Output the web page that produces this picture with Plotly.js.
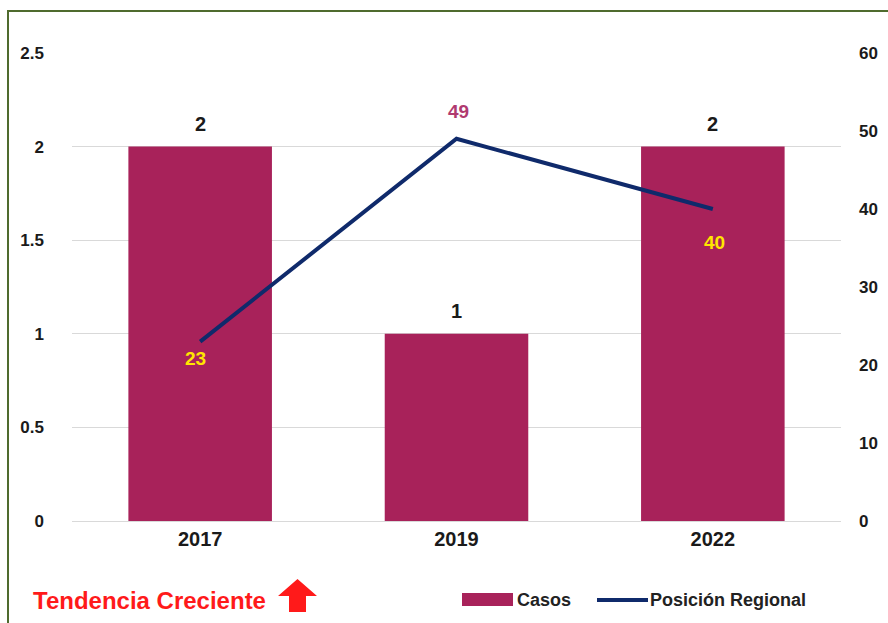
<!DOCTYPE html>
<html>
<head>
<meta charset="utf-8">
<script src="https://cdn.plot.ly/plotly-3.0.1.min.js"></script>
<style>html,body{margin:0;padding:0;background:#fff;}#chart{width:888px;height:623px;}</style>
</head>
<body>
<div id="chart"></div>
<script>
const years = ['2017', '2019', '2022'];
const casos = [2, 1, 2];
const posicion = [23, 49, 40];
const posLabelColors = ['#FFE600', '#B03A70', '#FFE600'];
const posLabelShift = [-17, 27, -33];
const leftTicks = [0, 0.5, 1, 1.5, 2, 2.5];
const leftTickText = ['0', '0.5', '1', '1.5', '2', '2.5'];
const rightTicks = [0, 10, 20, 30, 40, 50, 60];
const seriesNames = ['Casos', 'Posición Regional'];
const barColor = '#A8225A';
const lineColor = '#0F2A6B';

const FONT = 'Liberation Sans, Arial, sans-serif';
const L = 72, R = 47, T = 53, B = 102;
const W = 888, H = 623;
const pw = W - L - R, ph = H - T - B;
const px = x => (x - L) / pw;
const py = y => (H - B - y) / ph;

const traces = [
  {
    type: 'bar', name: seriesNames[0], x: years, y: casos,
    marker: {color: barColor}, width: 0.56, yaxis: 'y',
    hoverinfo: 'skip', showlegend: false
  },
  {
    type: 'scatter', mode: 'lines', name: seriesNames[1], x: years, y: posicion,
    line: {color: lineColor, width: 4}, yaxis: 'y2', hoverinfo: 'skip', showlegend: false
  }
];

const annotations = [];
years.forEach((yr, i) => {
  annotations.push({
    x: i, y: casos[i], xref: 'x', yref: 'y', text: '<b>' + casos[i] + '</b>',
    showarrow: false, yanchor: 'middle', yshift: 23,
    font: {family: FONT, size: 20, color: '#1a1a1a'}
  });
  annotations.push({
    x: i, y: posicion[i], xref: 'x', yref: 'y2', text: '<b>' + posicion[i] + '</b>',
    showarrow: false, yanchor: 'middle', yshift: posLabelShift[i], xshift: i === 0 ? -5 : 2,
    font: {family: FONT, size: 19, color: posLabelColors[i]}
  });
});
annotations.push({
  xref: 'paper', yref: 'paper', x: px(31), y: py(600), xanchor: 'left', yanchor: 'middle',
  text: '<b>Tendencia Creciente</b>', showarrow: false,
  font: {family: FONT, size: 24, color: '#FF1A1A'}
});
// legend texts
annotations.push({
  xref: 'paper', yref: 'paper', x: px(515), y: py(600), xanchor: 'left', yanchor: 'middle',
  text: '<b>' + seriesNames[0] + '</b>', showarrow: false,
  font: {family: FONT, size: 18, color: '#222'}
});
annotations.push({
  xref: 'paper', yref: 'paper', x: px(648), y: py(600), xanchor: 'left', yanchor: 'middle',
  text: '<b>' + seriesNames[1] + '</b>', showarrow: false,
  font: {family: FONT, size: 18, color: '#222'}
});

const shapes = [
  {
    type: 'rect', xref: 'paper', yref: 'paper', x0: px(8), x1: px(900), y0: py(11), y1: py(640),
    line: {color: '#4F6B2E', width: 2}, fillcolor: 'rgba(0,0,0,0)', layer: 'below'
  },
  {
    type: 'path', xref: 'paper', yref: 'paper',
    path: 'M ' + px(297.5) + ' ' + py(579) + ' L ' + px(317) + ' ' + py(596) + ' L ' + px(306) + ' ' + py(596) +
          ' L ' + px(306) + ' ' + py(612) + ' L ' + px(289) + ' ' + py(612) + ' L ' + px(289) + ' ' + py(596) +
          ' L ' + px(278) + ' ' + py(596) + ' Z',
    fillcolor: '#FF1A1A', line: {width: 0}
  },
  {
    type: 'rect', xref: 'paper', yref: 'paper', x0: px(462), x1: px(513), y0: py(593), y1: py(606),
    fillcolor: barColor, line: {width: 0}
  },
  {
    type: 'line', xref: 'paper', yref: 'paper', x0: px(597), x1: px(648), y0: py(600), y1: py(600),
    line: {color: lineColor, width: 4}
  }
];

const layout = {
  width: W, height: H,
  margin: {l: L, r: R, t: T, b: B},
  paper_bgcolor: '#ffffff', plot_bgcolor: '#ffffff',
  font: {family: FONT, color: '#222'},
  showlegend: false,
  xaxis: {
    type: 'category', range: [-0.5, 2.5], showgrid: false, zeroline: false, showline: false,
    tickfont: {family: FONT, size: 20, color: '#1a1a1a', weight: 'bold'}, ticks: '', ticklabelstandoff: 4
  },
  yaxis: {
    range: [0, 2.5], tickvals: leftTicks, ticktext: leftTickText,
    showgrid: true, gridcolor: '#D9D9D9', gridwidth: 1, zeroline: true, zerolinecolor: '#D9D9D9',
    showline: false, ticks: '', ticklabelstandoff: 27,
    tickfont: {family: FONT, size: 17, color: '#1a1a1a', weight: 'bold'}
  },
  yaxis2: {
    range: [0, 60], tickvals: rightTicks, overlaying: 'y', side: 'right',
    showgrid: false, zeroline: false, showline: false, ticks: '', ticklabelstandoff: 17,
    tickfont: {family: FONT, size: 17, color: '#1a1a1a', weight: 'bold'}
  },
  annotations: annotations,
  shapes: shapes
};

Plotly.newPlot('chart', traces, layout, {displayModeBar: false, staticPlot: true});
</script>
</body>
</html>
